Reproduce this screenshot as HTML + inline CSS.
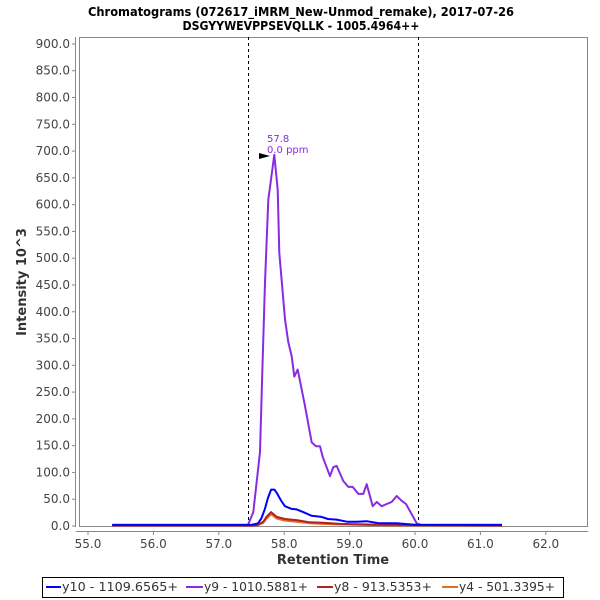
<!DOCTYPE html>
<html><head><meta charset="utf-8"><style>
body{margin:0;background:#fff;}
svg{display:block;font-family:"DejaVu Sans","Liberation Sans",sans-serif;}
</style></head><body>
<svg id="chart" width="600" height="600">
<text x="301" y="16" text-anchor="middle" font-size="12" font-weight="bold" fill="#000" textLength="426" lengthAdjust="spacingAndGlyphs">Chromatograms (072617_iMRM_New-Unmod_remake), 2017-07-26</text>
<text x="301" y="30" text-anchor="middle" font-size="12" font-weight="bold" fill="#000" textLength="237" lengthAdjust="spacingAndGlyphs">DSGYYWEVPPSEVQLLK - 1005.4964++</text>
<rect x="79.5" y="37.5" width="508" height="489" fill="#fff" stroke="#888" stroke-width="1"/>
<line x1="75.5" y1="37" x2="75.5" y2="527" stroke="#888"/>
<line x1="76" y1="531.5" x2="588" y2="531.5" stroke="#888"/>
<g id="yticks"></g><g id="xticks"></g>
<text transform="translate(26,282) rotate(-90)" text-anchor="middle" font-size="13" font-weight="bold" fill="#333">Intensity 10^3</text>
<text x="333" y="564" text-anchor="middle" font-size="13" font-weight="bold" fill="#333">Retention Time</text>
<g id="marks"></g>
<text x="267" y="142" font-size="10" fill="#8a2be2">57.8</text>
<text x="267" y="153" font-size="10" fill="#8a2be2">0.0 ppm</text>
<polygon points="259,153 270,156 259,159" fill="#000"/>
<rect x="42.5" y="577.5" width="521" height="20" fill="#fff" stroke="#000"/>
<g font-size="12" fill="#333">
<line x1="46" y1="587" x2="61" y2="587" stroke="#0000ff" stroke-width="2"/>
<text x="62" y="591" textLength="116" lengthAdjust="spacingAndGlyphs">y10 - 1109.6565+</text>
<line x1="186" y1="587" x2="203" y2="587" stroke="#8a2be2" stroke-width="2"/>
<text x="204" y="591" textLength="104" lengthAdjust="spacingAndGlyphs">y9 - 1010.5881+</text>
<line x1="317" y1="587" x2="333" y2="587" stroke="#b22222" stroke-width="2"/>
<text x="334" y="591" textLength="98" lengthAdjust="spacingAndGlyphs">y8 - 913.5353+</text>
<line x1="442" y1="587" x2="458" y2="587" stroke="#e07020" stroke-width="2"/>
<text x="459" y="591" textLength="96" lengthAdjust="spacingAndGlyphs">y4 - 501.3395+</text>
</g>
</svg>
<script>
const yTicks=[0,50,100,150,200,250,300,350,400,450,500,550,600,650,700,750,800,850,900];
const xTicks=[55,56,57,58,59,60,61,62];
const boundaryTimes=[57.446,60.046];
const y9Times=[55.37,57.446,57.528,57.63,57.665,57.706,57.757,57.849,57.901,57.925,58.012,58.063,58.115,58.154,58.206,58.318,58.42,58.486,58.547,58.589,58.7,58.751,58.803,58.904,58.98,59.047,59.133,59.209,59.261,59.353,59.414,59.491,59.567,59.644,59.72,59.797,59.862,59.95,60.026,60.1,61.33];
const y9Values=[2,2,26,138,287,455,609,693,628,510,386,343,317,279,292,224,156,149,149,129,93,110,112,84,73,73,60,60,78,37,45,37,41,45,56,47,41,22,5,2,2];
const y10Times=[55.37,57.5,57.6,57.65,57.7,57.75,57.8,57.85,57.885,57.95,58.01,58.115,58.19,58.29,58.42,58.57,58.67,58.8,58.96,59.11,59.26,59.46,59.72,59.92,60.03,61.33];
const y10Values=[2,2,5,14,30,52,68,68,62,48,37,32,31,26,19,17,13,12,8,8,9,5,5,3,2,2];
const y8Times=[55.37,57.55,57.6,57.68,57.73,57.8,57.885,58.01,58.19,58.39,58.59,58.85,59.2,59.71,61.33];
const y8Values=[1,1,2,8,17,26,17,13,11,7,6,4,3,2,1];
const y4Times=[55.37,57.55,57.6,57.68,57.73,57.8,57.885,58.01,58.19,58.39,58.59,58.85,59.2,59.71,61.33];
const y4Values=[1,1,2,6,14,22,14,10,8,5,4,3,2,1,1];
const NS='http://www.w3.org/2000/svg';
function xs(t){return 88+(t-55)*65.4;}
function ys(v){return 526-v*0.5356;}
const yg=document.getElementById('yticks');
yTicks.forEach(v=>{
  const l=document.createElementNS(NS,'line');
  l.setAttribute('x1',72);l.setAttribute('x2',76);l.setAttribute('y1',ys(v));l.setAttribute('y2',ys(v));l.setAttribute('stroke','#888');
  
  
  yg.appendChild(l);
  const t=document.createElementNS(NS,'text');
  t.setAttribute('x',70);t.setAttribute('y',ys(v)+4);t.setAttribute('text-anchor','end');t.setAttribute('font-size','12');t.setAttribute('fill','#444');
  t.textContent=v.toFixed(1);
  
  
  yg.appendChild(t);
});
const xg=document.getElementById('xticks');
xTicks.forEach(v=>{
  const l=document.createElementNS(NS,'line');
  l.setAttribute('x1',xs(v));l.setAttribute('x2',xs(v));l.setAttribute('y1',531);l.setAttribute('y2',535);l.setAttribute('stroke','#888');
  
  
  xg.appendChild(l);
  const t=document.createElementNS(NS,'text');
  t.setAttribute('x',xs(v));t.setAttribute('y',548);t.setAttribute('text-anchor','middle');t.setAttribute('font-size','12');t.setAttribute('fill','#444');
  t.textContent=v.toFixed(1);
  
  
  xg.appendChild(t);
});
const mg=document.getElementById('marks');
boundaryTimes.forEach(b=>{
  const l=document.createElementNS(NS,'line');
  const x=Math.round(xs(b))+0.5;
  l.setAttribute('x1',x);l.setAttribute('x2',x);l.setAttribute('y1',37);l.setAttribute('y2',527);
  l.setAttribute('stroke','#000');l.setAttribute('stroke-width','1');l.setAttribute('stroke-dasharray','3,3');
  
  
  mg.appendChild(l);
});
function series(times,vals,color,name){
  const p=document.createElementNS(NS,'polyline');
  p.setAttribute('points',times.map((t,i)=>xs(t).toFixed(1)+','+ys(vals[i]).toFixed(1)).join(' '));
  p.setAttribute('fill','none');p.setAttribute('stroke',color);p.setAttribute('stroke-width','2');p.setAttribute('stroke-linejoin','round');
  
  
  mg.appendChild(p);
}
series(y4Times,y4Values,'#e07020','series-y4');
series(y8Times,y8Values,'#b22222','series-y8');
series(y9Times,y9Values,'#8a2be2','series-y9');
series(y10Times,y10Values,'#0000ff','series-y10');
</script>
</body></html>
